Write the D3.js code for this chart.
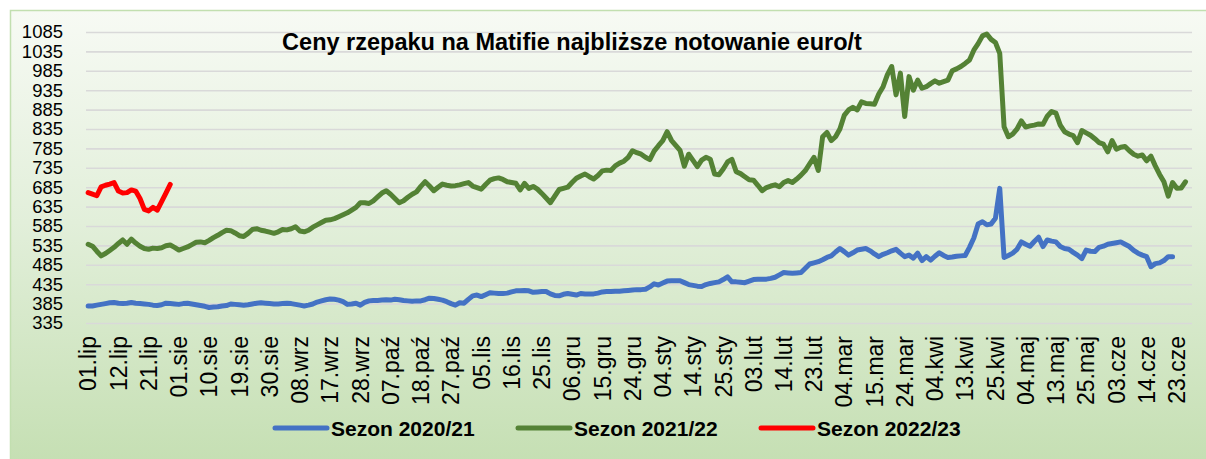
<!DOCTYPE html>
<html lang="pl">
<head>
    <meta charset="UTF-8">
    <title>Ceny rzepaku na Matifie</title>
    <script src="https://cdn.jsdelivr.net/npm/d3@7"></script>
    <style>
        body { margin: 0; background: #fff; }
        text { font-family: "Liberation Sans", Arial, sans-serif; }
    </style>
</head>
<body>
<script>
    // dni notowań w sezonie (oś kategorii), podpis co 7 dni
    var nDays = 256;
    var labelStep = 7;
    var tickLabels = ["01.lip", "12.lip", "21.lip", "01.sie", "10.sie", "19.sie", "30.sie", "08.wrz", "17.wrz", "28.wrz",
        "07.paź", "18.paź", "27.paź", "05.lis", "16.lis", "25.lis", "06.gru", "15.gru", "24.gru", "04.sty",
        "14.sty", "25.sty", "03.lut", "14.lut", "23.lut", "04.mar", "15.mar", "24.mar", "04.kwi", "13.kwi",
        "25.kwi", "04.maj", "13.maj", "25.maj", "03.cze", "14.cze", "23.cze"];
    var yTicks = [335, 385, 435, 485, 535, 585, 635, 685, 735, 785, 835, 885, 935, 985, 1035, 1085];

    // Sezon 2020/21
    var sezon2021 = [
        379, 379, 381, 383, 385, 387, 388, 386, 385, 386, 388, 386, 385, 384, 383, 381, 380, 382, 386, 385,
        384, 383, 385, 386, 384, 382, 380, 378, 375, 376, 377, 379, 380, 384, 383, 382, 381, 382, 384, 386,
        387, 386, 385, 384, 384, 385, 386, 385, 383, 381, 379, 381, 384, 389, 392, 395, 397, 396, 394, 390,
        383, 384, 386, 381, 388, 392, 393, 393, 394, 395, 394, 396, 395, 393, 392, 391, 392, 392, 395, 399,
        398, 396, 394, 390, 385, 381, 387, 386, 396, 405, 407, 403, 408, 413, 412, 411, 411, 412, 415, 418,
        418, 419, 418, 414, 415, 416, 416, 410, 406, 405, 409, 411, 409, 407, 411, 410, 410, 410, 412, 415,
        416, 416, 417, 417, 418, 419, 420, 421, 421, 422, 428, 436, 433, 438, 443, 444, 444, 444, 439, 434,
        432, 430, 429, 434, 437, 439, 441, 447, 454, 441, 441, 440, 439, 443, 447, 448, 448, 448, 450, 453,
        459, 465, 464, 463, 464, 465, 476, 487, 490, 493, 498, 504, 508, 518, 527, 519, 510, 516, 523, 525,
        527, 521, 513, 506, 512, 516, 521, 525, 515, 506, 510, 502, 515, 496, 506, 497, 507, 516, 509, 504,
        505, 507, 508, 509, 530, 554, 590, 596, 588, 590, 605, 682, 504, 509, 515, 525, 544, 538, 533, 545,
        556, 532, 549, 546, 544, 532, 527, 525, 517, 510, 501, 523, 520, 519, 530, 533, 538, 540, 542, 544,
        538, 532, 522, 515, 510, 506, 480, 488, 490, 496, 506, 506
    ];

    // Sezon 2021/22
    var sezon2122 = [
        538, 533, 520, 508, 514, 522, 530, 540, 549, 538, 551, 541, 533, 527, 525, 528, 527, 529, 534, 536,
        530, 523, 527, 531, 537, 543, 544, 542, 548, 555, 561, 568, 574, 573, 567, 560, 558, 566, 576, 578,
        574, 572, 569, 566, 570, 576, 575, 578, 583, 572, 570, 574, 582, 588, 594, 600, 601, 604, 609, 614,
        619, 626, 633, 645, 645, 643, 650, 660, 670, 676, 667, 656, 645, 650, 659, 667, 673, 687, 699, 688,
        676, 685, 693, 690, 688, 689, 691, 694, 697, 688, 684, 680, 692, 703, 707, 709, 705, 699, 697, 695,
        678, 695, 682, 687, 680, 669, 657, 645, 662, 679, 682, 685, 697, 708, 714, 719, 712, 706, 715, 727,
        729, 728, 740, 747, 752, 762, 779, 774, 770, 762, 756, 778, 792, 805, 828, 806, 793, 780, 739, 770,
        754, 738, 755, 762, 757, 719, 717, 732, 750, 757, 725, 720, 712, 704, 703, 690, 676, 684, 688, 691,
        686, 697, 702, 697, 706, 716, 728, 745, 762, 728, 815, 826, 805, 815, 835, 870, 884, 891, 884, 905,
        901, 900, 899, 925, 944, 975, 996, 923, 979, 867, 970, 935, 961, 940, 944, 952, 959, 953, 957, 961,
        985, 990, 996, 1004, 1013, 1038, 1055, 1075, 1080, 1066, 1058, 1030, 841, 815, 822, 835, 856, 840, 843, 845,
        848, 847, 868, 880, 876, 845, 828, 822, 818, 800, 831, 825, 819, 810, 800, 796, 776, 805, 783, 788,
        790, 779, 770, 765, 768, 753, 765, 740, 718, 699, 662, 697, 682, 683, 699
    ];

    // Sezon 2022/23
    var sezon2223 = [671, 667, 663, 686, 690, 693, 697, 675, 670, 671, 678, 675, 656, 628, 624, 633, 626, 648, 670, 692];

    var seriesNames = ["Sezon 2020/21", "Sezon 2021/22", "Sezon 2022/23"];
    var seriesColors = ["#4472c4", "#548235", "#ff0000"];
    var seriesValues = [sezon2021, sezon2122, sezon2223];

    var width = 1206, height = 459;
    var plot = {left: 86, right: 1192, top: 32, bottom: 323};

    var svg = d3.select("body").append("svg")
        .attr("width", width)
        .attr("height", height);

    // tło z gradientem
    var grad = svg.append("defs").append("linearGradient")
        .attr("id", "bg")
        .attr("x1", 0).attr("y1", 0).attr("x2", 0).attr("y2", 1);
    grad.append("stop").attr("offset", "0%").attr("stop-color", "#f7faf4");
    grad.append("stop").attr("offset", "45%").attr("stop-color", "#e2efda");
    grad.append("stop").attr("offset", "100%").attr("stop-color", "#c3deb0");

    svg.append("rect")
        .attr("x", 10.5).attr("y", 10.5)
        .attr("width", 1210).attr("height", 470)
        .attr("fill", "url(#bg)")
        .attr("stroke", "#c2dfb0")
        .attr("stroke-width", 1.5);

    var x = d3.scaleBand()
        .domain(d3.range(nDays))
        .range([plot.left, plot.right]);
    var y = d3.scaleLinear()
        .domain([335, 1085])
        .range([plot.bottom, plot.top]);

    function px(i) { return x(i) + x.bandwidth() / 2; }

    // linie siatki
    svg.append("g")
        .attr("transform", "translate(" + plot.left + ",0)")
        .call(d3.axisLeft(y).tickValues(yTicks).tickSize(-(plot.right - plot.left)).tickFormat(""))
        .call(function (g) {
            g.select(".domain").remove();
            g.selectAll("line").attr("stroke", "#d9d9d9").attr("stroke-width", 1.6);
        });

    // oś Y
    svg.append("g")
        .attr("transform", "translate(" + (plot.left - 23) + ",0)")
        .call(d3.axisLeft(y).tickValues(yTicks).tickSize(0).tickPadding(0).tickFormat(d3.format("d")))
        .call(function (g) {
            g.select(".domain").remove();
            g.selectAll("text")
                .attr("fill", "#000")
                .style("font-size", "18.5px");
        });

    // oś X
    var labelIdx = tickLabels.map(function (d, k) { return k * labelStep; });
    svg.append("g")
        .attr("transform", "translate(0," + 336 + ")")
        .call(d3.axisBottom(x).tickValues(labelIdx).tickSize(0)
            .tickFormat(function (i) { return tickLabels[i / labelStep]; }))
        .call(function (g) {
            g.select(".domain").remove();
            g.selectAll("text")
                .attr("x", 0).attr("y", 0).attr("dy", "0.36em")
                .attr("transform", "rotate(-90)")
                .attr("text-anchor", "end")
                .attr("fill", "#000")
                .style("font-size", "23px");
        });

    // serie
    var line = d3.line()
        .x(function (d, i) { return px(i); })
        .y(function (d) { return y(d); });

    seriesValues.forEach(function (vals, k) {
        svg.append("path")
            .datum(vals)
            .attr("d", line)
            .attr("fill", "none")
            .attr("stroke", seriesColors[k])
            .attr("stroke-width", 5)
            .attr("stroke-linejoin", "round")
            .attr("stroke-linecap", "round");
    });

    // tytuł
    svg.append("text")
        .attr("x", 572).attr("y", 50)
        .attr("text-anchor", "middle")
        .style("font-size", "23.5px")
        .style("font-weight", "bold")
        .text("Ceny rzepaku na Matifie najbliższe notowanie euro/t");

    // legenda
    var legendX = [273, 516, 759];
    var legend = svg.selectAll(".legend")
        .data(seriesNames)
        .enter().append("g")
        .attr("class", "legend")
        .attr("transform", function (d, k) { return "translate(" + legendX[k] + "," + 428 + ")"; });
    legend.append("line")
        .attr("x1", 2).attr("x2", 54)
        .attr("stroke", function (d, k) { return seriesColors[k]; })
        .attr("stroke-width", 5)
        .attr("stroke-linecap", "round");
    legend.append("text")
        .attr("x", 58).attr("dy", "0.36em")
        .style("font-size", "21px")
        .style("font-weight", "bold")
        .text(function (d) { return d; });
</script>
</body>
</html>
